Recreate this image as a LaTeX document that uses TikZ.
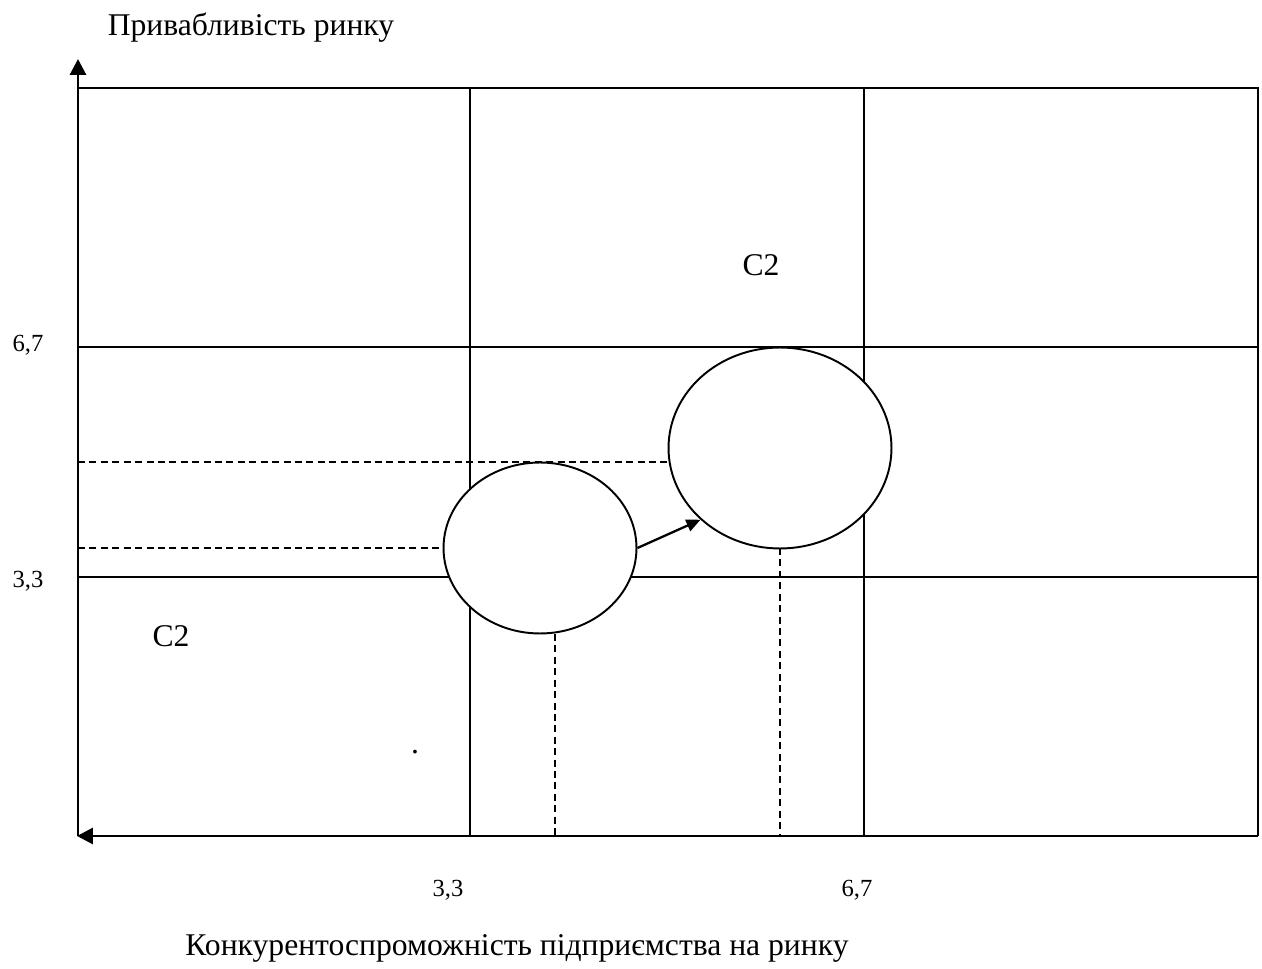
\documentclass[tikz,border=0pt]{standalone}
\usepackage{fontspec}
\setmainfont{Liberation Serif}
\usepackage{tikz}
\usetikzlibrary{positioning, arrows.meta, shapes.geometric}

\begin{document}
\begin{tikzpicture}[
    x=0.02cm, y=-0.02cm,
    grid/.style={draw=black, line width=0.95pt},
    axis/.style={draw=black, line width=1.7pt, -{Triangle[length=9pt, width=9pt]}},
    guide/.style={draw=black, line width=0.8pt, dash pattern=on 4pt off 2.5pt},
    firm/.style={ellipse, draw=black, line width=1.1pt, fill=white, inner sep=0pt},
    move/.style={-{Triangle[length=8pt, width=7pt]}, line width=1.3pt},
    lbl/.style={font=\fontsize{18}{21}\selectfont, inner sep=0pt},
    num/.style={font=\fontsize{14}{17}\selectfont, inner sep=0pt}]

  \useasboundingbox (0,0) rectangle (1262,969);

  % matrix frame and cells
  \draw[grid] (78,88) -- (1258,88) -- (1258,836);
  \draw[grid] (470,88) -- (470,836);
  \draw[grid] (864,88) -- (864,836);
  \draw[grid] (78,347) -- (1258,347);
  \draw[grid] (78,577) -- (1258,577);

  % projections
  \draw[guide] (78,462) -- (668,462);
  \draw[guide] (78,548) -- (443,548);
  \draw[guide] (555,634) -- (555,836);
  \draw[guide] (780,548) -- (780,836);

  % axes
  \draw[axis] (78,836) -- (78,59);
  \draw[axis] (1258,836) -- (77,836);

  % positions of the business
  \node[firm, minimum width=3.86cm, minimum height=3.42cm] (now) at (540,548) {};
  \node[firm, minimum width=4.46cm, minimum height=4.02cm] (goal) at (780,448) {};
  \draw[move] (now.east) -- (goal.south west);

  % labels
  \node[lbl] (ytitle) at (251,28) {Привабливість ринку};
  \node[num] (yhi) at (28,345) {6,7};
  \node[num] (ylo) at (28,581) {3,3};
  \node[num] (xlo) at (448,890) {3,3};
  \node[num] (xhi) at (857,890) {6,7};
  \node[lbl] (xtitle) at (517,948) {Конкурентоспроможність підприємства на ринку};
  \node[lbl] (cellA) at (761,265) {C2};
  \node[lbl] (cellB) at (171,636) {C2};
  \node[lbl] (dot) at (415,752) {.};
\end{tikzpicture}
\end{document}
